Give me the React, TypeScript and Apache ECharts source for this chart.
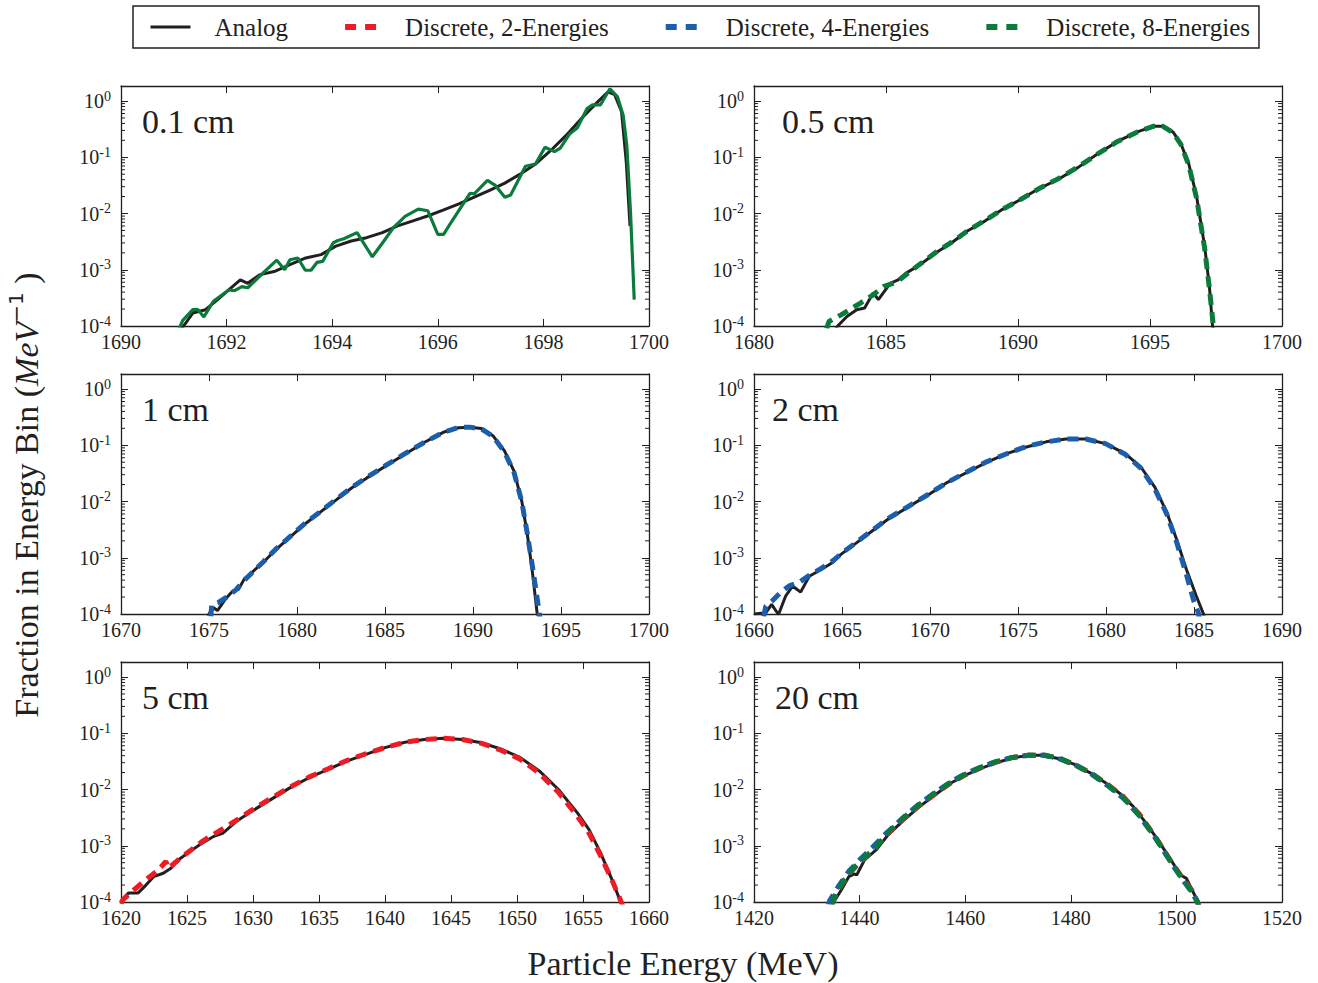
import React, { useEffect, useRef } from 'react';
import * as echarts from 'echarts';

const FONT = "'Liberation Serif', 'Times New Roman', Times, serif";
const INK = '#231f20';

// Legend entries and their colours
const seriesNames = ['Analog', 'Discrete, 2-Energies', 'Discrete, 4-Energies', 'Discrete, 8-Energies'];
const seriesColors = ['#231f20', '#ed1c24', '#1b5eab', '#0b7b3b'];

// Panels: depth label, x-axis range and tick step
const panelTitles = ['0.1 cm', '0.5 cm', '1 cm', '2 cm', '5 cm', '20 cm'];
const xMins = [1690, 1680, 1670, 1660, 1620, 1420];
const xMaxs = [1700, 1700, 1700, 1690, 1660, 1520];
const xSteps = [2, 5, 5, 5, 5, 20];
const Y_MIN = 1e-4;
const Y_MAX = 1.85;

// Log minor ticks: mantissas within each decade
const minorMantissas = [2, 3, 4, 5, 6, 7, 8, 9];
const minorDecades = [-4, -3, -2, -1];

// ---- 0.1 cm ----
const analog01: number[][] = [
  [1691.15, 0.9e-4], [1691.36, 1.7e-4], [1691.6, 1.95e-4], [1691.83, 2.95e-4], [1692.04, 4.37e-4],
  [1692.26, 6.6e-4], [1692.4, 5.75e-4], [1692.62, 8.1e-4], [1692.9, 9.3e-4], [1693.2, 1.23e-3],
  [1693.5, 1.62e-3], [1693.79, 1.86e-3], [1694.07, 2.63e-3], [1694.36, 3.24e-3], [1694.65, 3.72e-3],
  [1694.95, 4.57e-3], [1695.24, 6.03e-3], [1695.53, 7.41e-3], [1695.82, 9.12e-3], [1696.1, 1.15e-2],
  [1696.4, 1.48e-2], [1696.69, 1.95e-2], [1696.98, 2.57e-2], [1697.27, 3.47e-2], [1697.56, 5.01e-2],
  [1697.85, 7.59e-2], [1698.14, 0.132], [1698.43, 0.245], [1698.72, 0.49], [1699.0, 0.91],
  [1699.22, 1.45], [1699.35, 1.3], [1699.48, 0.646], [1699.57, 0.0813], [1699.64, 6.0e-3],
];
const discrete8_01: number[][] = [
  [1691.1, 0.9e-4], [1691.17, 1.26e-4], [1691.36, 1.95e-4], [1691.46, 1.95e-4], [1691.57, 1.45e-4],
  [1691.75, 2.75e-4], [1692.04, 4.37e-4], [1692.15, 4.27e-4], [1692.29, 5.01e-4], [1692.4, 4.79e-4],
  [1692.62, 7.59e-4], [1692.95, 1.48e-3], [1693.1, 1.0e-3], [1693.2, 1.51e-3], [1693.35, 1.62e-3],
  [1693.49, 9.8e-4], [1693.6, 9.8e-4], [1693.71, 1.35e-3], [1693.82, 1.41e-3], [1694.02, 3.02e-3],
  [1694.11, 3.31e-3], [1694.22, 3.55e-3], [1694.47, 4.57e-3], [1694.76, 1.7e-3], [1694.98, 3.24e-3],
  [1695.16, 5.62e-3], [1695.38, 8.91e-3], [1695.63, 1.2e-2], [1695.81, 1.12e-2], [1696.0, 4.27e-3],
  [1696.11, 4.27e-3], [1696.25, 6.92e-3], [1696.61, 2.29e-2], [1696.69, 2.24e-2], [1696.94, 3.89e-2],
  [1697.09, 3.16e-2], [1697.27, 1.95e-2], [1697.38, 2.14e-2], [1697.66, 6.92e-2], [1697.85, 7.59e-2],
  [1698.03, 0.151], [1698.21, 0.126], [1698.32, 0.145], [1698.5, 0.263], [1698.64, 0.331],
  [1698.83, 0.741], [1698.93, 0.851], [1699.08, 0.851], [1699.26, 1.65], [1699.4, 1.2],
  [1699.51, 0.562], [1699.58, 0.162], [1699.65, 1.05e-2], [1699.72, 2.95e-4],
];

// ---- 0.5 cm ----
const analog05: number[][] = [
  [1683.1, 0.9e-4], [1683.17, 1.0e-4], [1683.52, 1.48e-4], [1683.89, 1.95e-4], [1684.19, 2.09e-4],
  [1684.52, 3.89e-4], [1684.71, 2.95e-4], [1685.16, 5.75e-4], [1685.46, 6.61e-4], [1685.76, 8.71e-4],
  [1686.29, 1.23e-3], [1686.89, 2.0e-3], [1687.49, 3.02e-3], [1688.08, 4.9e-3], [1688.76, 7.41e-3],
  [1689.43, 1.2e-2], [1690.03, 1.7e-2], [1690.78, 2.75e-2], [1691.53, 4.07e-2], [1692.28, 6.61e-2],
  [1693.02, 0.115], [1693.77, 0.191], [1694.52, 0.282], [1695.12, 0.355], [1695.49, 0.355],
  [1695.87, 0.282], [1696.17, 0.174], [1696.47, 7.59e-2], [1696.77, 1.95e-2], [1697.07, 2.63e-3],
  [1697.25, 5.01e-4], [1697.37, 1.0e-4], [1697.42, 0.8e-4],
];
const discrete8_05: number[][] = [
  [1682.75, 0.9e-4], [1682.84, 1.2e-4], [1683.3, 1.58e-4], [1684.0, 2.51e-4], [1684.5, 3.55e-4],
  [1684.9, 5.01e-4], [1685.4, 6.03e-4], [1685.8, 8.51e-4], [1686.29, 1.26e-3], [1686.89, 2.04e-3],
  [1687.49, 3.09e-3], [1688.08, 4.9e-3], [1688.76, 7.59e-3], [1689.43, 1.2e-2], [1690.03, 1.7e-2],
  [1690.78, 2.75e-2], [1691.53, 4.17e-2], [1692.28, 6.76e-2], [1693.02, 0.115], [1693.77, 0.191],
  [1694.52, 0.282], [1695.12, 0.355], [1695.49, 0.355], [1695.87, 0.275], [1696.17, 0.17],
  [1696.47, 7.24e-2], [1696.77, 1.82e-2], [1697.07, 2.4e-3], [1697.25, 4.68e-4], [1697.4, 1.0e-4],
  [1697.45, 0.8e-4],
];

// ---- 1 cm ----
const analog1: number[][] = [
  [1674.95, 0.9e-4], [1675.0, 1.0e-4], [1675.26, 1.29e-4], [1675.48, 1.15e-4], [1675.92, 1.82e-4],
  [1676.35, 2.57e-4], [1676.68, 2.75e-4], [1677.0, 4.17e-4], [1677.44, 5.5e-4], [1678.09, 8.32e-4],
  [1678.75, 1.35e-3], [1679.62, 2.34e-3], [1680.49, 4.07e-3], [1681.36, 6.61e-3], [1682.23, 1.07e-2],
  [1683.1, 1.74e-2], [1683.97, 2.63e-2], [1685.04, 4.27e-2], [1686.13, 6.92e-2], [1687.22, 0.112],
  [1688.31, 0.17], [1689.18, 0.205], [1689.83, 0.21], [1690.48, 0.198], [1691.13, 0.148],
  [1691.79, 7.94e-2], [1692.33, 3.47e-2], [1692.77, 1.02e-2], [1693.09, 2.57e-3], [1693.35, 6.46e-4],
  [1693.65, 1.0e-4], [1693.7, 0.8e-4],
];
const discrete4_1: number[][] = [
  [1675.1, 0.9e-4], [1675.16, 1.48e-4], [1675.5, 1.58e-4], [1676.0, 2.0e-4], [1676.5, 2.63e-4],
  [1677.0, 3.98e-4], [1677.5, 5.62e-4], [1678.09, 8.51e-4], [1678.75, 1.38e-3], [1679.62, 2.4e-3],
  [1680.49, 4.17e-3], [1681.36, 6.76e-3], [1682.23, 1.1e-2], [1683.1, 1.78e-2], [1683.97, 2.69e-2],
  [1685.04, 4.37e-2], [1686.13, 7.08e-2], [1687.22, 0.112], [1688.31, 0.17], [1689.18, 0.207],
  [1689.83, 0.21], [1690.48, 0.195], [1691.13, 0.145], [1691.79, 7.59e-2], [1692.33, 3.31e-2],
  [1692.77, 1.0e-2], [1693.09, 2.63e-3], [1693.4, 6.3e-4], [1693.75, 1.12e-4], [1693.8, 0.8e-4],
];

// ---- 2 cm ----
const analog2: number[][] = [
  [1660.0, 1.0e-4], [1660.67, 1.05e-4], [1661.0, 1.48e-4], [1661.39, 0.98e-4], [1661.8, 2.09e-4],
  [1662.13, 2.95e-4], [1662.3, 2.95e-4], [1662.65, 2.45e-4], [1663.14, 4.68e-4], [1663.82, 6.17e-4],
  [1664.49, 8.32e-4], [1664.94, 1.15e-3], [1665.84, 1.86e-3], [1666.73, 3.02e-3], [1667.63, 4.9e-3],
  [1668.75, 7.94e-3], [1669.87, 1.29e-2], [1670.99, 2.19e-2], [1672.12, 3.31e-2], [1673.24, 5.01e-2],
  [1674.36, 7.08e-2], [1675.48, 9.33e-2], [1676.6, 0.115], [1677.73, 0.129], [1678.85, 0.129],
  [1679.97, 0.107], [1681.09, 7.08e-2], [1681.99, 4.07e-2], [1682.78, 1.78e-2], [1683.45, 6.46e-3],
  [1684.01, 2.14e-3], [1684.57, 6.17e-4], [1685.13, 2.09e-4], [1685.54, 1.0e-4], [1685.6, 0.85e-4],
];
const discrete4_2: number[][] = [
  [1660.55, 0.9e-4], [1660.67, 1.38e-4], [1661.0, 1.66e-4], [1661.5, 2.4e-4], [1662.0, 3.16e-4],
  [1662.6, 3.72e-4], [1663.2, 5.01e-4], [1663.82, 6.46e-4], [1664.49, 8.91e-4], [1664.94, 1.17e-3],
  [1665.84, 1.91e-3], [1666.73, 3.09e-3], [1667.63, 5.01e-3], [1668.75, 8.13e-3], [1669.87, 1.32e-2],
  [1670.99, 2.19e-2], [1672.12, 3.39e-2], [1673.24, 5.13e-2], [1674.36, 7.08e-2], [1675.48, 9.55e-2],
  [1676.6, 0.115], [1677.73, 0.129], [1678.85, 0.129], [1679.97, 0.107], [1681.09, 6.92e-2],
  [1681.99, 3.89e-2], [1682.78, 1.66e-2], [1683.45, 6.03e-3], [1684.01, 1.91e-3], [1684.57, 5.01e-4],
  [1685.0, 1.66e-4], [1685.25, 1.05e-4], [1685.3, 0.85e-4],
];

// ---- 5 cm ----
const analog5: number[][] = [
  [1620.0, 0.9e-4], [1620.15, 1.15e-4], [1620.58, 1.45e-4], [1621.3, 1.45e-4], [1621.89, 2.0e-4],
  [1622.47, 2.82e-4], [1623.2, 3.24e-4], [1623.78, 3.98e-4], [1624.36, 5.62e-4], [1625.23, 7.94e-4],
  [1626.1, 1.1e-3], [1626.98, 1.45e-3], [1627.7, 1.66e-3], [1628.72, 2.69e-3], [1629.88, 4.07e-3],
  [1631.34, 6.61e-3], [1632.79, 1.07e-2], [1634.24, 1.62e-2], [1635.7, 2.29e-2], [1637.15, 3.24e-2],
  [1638.6, 4.27e-2], [1640.06, 5.62e-2], [1641.51, 6.92e-2], [1642.97, 7.76e-2], [1644.42, 8.13e-2],
  [1645.87, 7.76e-2], [1647.33, 6.76e-2], [1648.78, 5.25e-2], [1650.23, 3.72e-2], [1651.69, 2.14e-2],
  [1653.14, 1.0e-2], [1654.59, 3.8e-3], [1655.47, 1.91e-3], [1656.34, 7.41e-4], [1657.21, 2.45e-4],
  [1657.85, 1.0e-4], [1657.9, 0.85e-4],
];
const discrete2_5: number[][] = [
  [1620.0, 0.95e-4], [1620.15, 1.1e-4], [1621.0, 1.66e-4], [1622.0, 2.63e-4], [1622.8, 3.63e-4],
  [1623.4, 5.25e-4], [1623.6, 3.98e-4], [1624.5, 6.03e-4], [1625.23, 8.13e-4], [1626.1, 1.17e-3],
  [1626.98, 1.58e-3], [1627.7, 2.0e-3], [1628.72, 2.82e-3], [1629.88, 4.27e-3], [1631.34, 6.92e-3],
  [1632.79, 1.1e-2], [1634.24, 1.66e-2], [1635.7, 2.34e-2], [1637.15, 3.31e-2], [1638.6, 4.37e-2],
  [1640.06, 5.62e-2], [1641.51, 6.92e-2], [1642.97, 7.76e-2], [1644.42, 8.13e-2], [1645.87, 7.76e-2],
  [1647.33, 6.61e-2], [1648.78, 5.01e-2], [1650.23, 3.47e-2], [1651.69, 1.95e-2], [1653.14, 8.91e-3],
  [1654.59, 3.31e-3], [1655.47, 1.66e-3], [1656.34, 6.61e-4], [1657.21, 2.4e-4], [1657.9, 1.0e-4],
  [1658.0, 0.85e-4],
];

// ---- 20 cm ----
const analog20: number[][] = [
  [1435.0, 0.9e-4], [1435.1, 1.0e-4], [1436.5, 1.62e-4], [1437.95, 2.82e-4], [1439.0, 3.16e-4],
  [1439.45, 3.02e-4], [1440.94, 5.62e-4], [1443.19, 8.51e-4], [1445.43, 1.58e-3], [1448.42, 2.88e-3],
  [1451.41, 5.01e-3], [1454.4, 8.13e-3], [1457.39, 1.32e-2], [1460.38, 1.86e-2], [1463.37, 2.45e-2],
  [1466.36, 3.09e-2], [1469.36, 3.72e-2], [1472.35, 4.07e-2], [1474.6, 4.07e-2], [1477.59, 3.55e-2],
  [1480.58, 2.82e-2], [1483.57, 2.0e-2], [1486.56, 1.32e-2], [1489.55, 8.13e-3], [1491.8, 5.01e-3],
  [1494.04, 2.69e-3], [1496.28, 1.35e-3], [1498.53, 6.46e-4], [1500.77, 3.02e-4], [1501.9, 2.63e-4],
  [1503.0, 1.62e-4], [1504.1, 1.0e-4], [1504.3, 0.85e-4],
];
const discrete2_20: number[][] = [
  [1434.6, 0.9e-4], [1436, 1.66e-4], [1438, 3.16e-4], [1440, 5.0e-4], [1442, 7.6e-4],
  [1445, 1.51e-3], [1448, 2.82e-3], [1451, 4.9e-3], [1454, 7.94e-3], [1457, 1.26e-2],
  [1460, 1.82e-2], [1463, 2.45e-2], [1466, 3.09e-2], [1469, 3.72e-2], [1472, 4.07e-2],
  [1475, 4.07e-2], [1478, 3.55e-2], [1481, 2.69e-2], [1484, 1.91e-2], [1487, 1.23e-2],
  [1490, 7.41e-3], [1493, 3.63e-3], [1496, 1.45e-3], [1499, 5.25e-4], [1501, 2.82e-4],
  [1503, 1.58e-4], [1504, 1.0e-4], [1504.2, 0.85e-4],
];
const discrete4_20: number[][] = [
  [1434.1, 0.9e-4], [1434.3, 1.05e-4], [1436, 1.91e-4], [1438, 3.55e-4], [1440, 5.62e-4],
  [1442, 8.51e-4], [1445, 1.66e-3], [1448, 3.02e-3], [1451, 5.25e-3], [1454, 8.51e-3],
  [1457, 1.32e-2], [1460, 1.91e-2], [1463, 2.51e-2], [1466, 3.16e-2], [1469, 3.72e-2],
  [1472, 4.07e-2], [1475, 4.07e-2], [1478, 3.47e-2], [1481, 2.69e-2], [1484, 1.86e-2],
  [1487, 1.17e-2], [1490, 6.92e-3], [1493, 3.39e-3], [1496, 1.38e-3], [1499, 5.01e-4],
  [1501, 2.63e-4], [1503, 1.45e-4], [1504, 1.0e-4], [1504.2, 0.85e-4],
];
const discrete8_20: number[][] = [
  [1434.8, 0.9e-4], [1435.5, 1.41e-4], [1437, 2.4e-4], [1439, 4.17e-4], [1441, 6.31e-4],
  [1443, 9.12e-4], [1445, 1.58e-3], [1448, 2.95e-3], [1451, 5.13e-3], [1454, 8.32e-3],
  [1457, 1.29e-2], [1460, 1.86e-2], [1463, 2.51e-2], [1466, 3.16e-2], [1469, 3.72e-2],
  [1472, 4.07e-2], [1475, 4.07e-2], [1478, 3.55e-2], [1481, 2.69e-2], [1484, 1.91e-2],
  [1487, 1.2e-2], [1490, 7.08e-3], [1493, 3.47e-3], [1496, 1.41e-3], [1499, 5.13e-4],
  [1501, 2.69e-4], [1503, 1.51e-4], [1504, 1.0e-4], [1504.2, 0.85e-4],
];

// Which curves go in which panel: legend index, data, solid stroke
type Curve = { kind: number; data: number[][]; solid?: boolean };
const panelCurves: Curve[][] = [
  [{ kind: 0, data: analog01 }, { kind: 3, data: discrete8_01, solid: true }],
  [{ kind: 0, data: analog05 }, { kind: 3, data: discrete8_05 }],
  [{ kind: 0, data: analog1 }, { kind: 2, data: discrete4_1 }],
  [{ kind: 0, data: analog2 }, { kind: 2, data: discrete4_2 }],
  [{ kind: 0, data: analog5 }, { kind: 1, data: discrete2_5 }],
  [{ kind: 0, data: analog20 }, { kind: 1, data: discrete2_20 }, { kind: 2, data: discrete4_20 }, { kind: 3, data: discrete8_20 }],
];

// Layout of the 3x2 panel grid
const COL_LEFT = [121, 754];
const ROW_TOP = [86, 374, 662];
const PANEL_W = 528;
const PANEL_H = 240;
const TITLE_DX = [21, 28, 21, 18, 21, 21];
const TITLE_DY = 35;

const DASH = [11, 7];
const ANALOG_W = 3;
const DASH_W = 5;

function decadeLabel(v: number): string {
  const e = Math.log10(v);
  const r = Math.round(e);
  if (Math.abs(e - r) > 1e-6) return '';
  return `{b|10}{s|${r}}`;
}

const labelRich = {
  b: { fontFamily: FONT, fontSize: 20, color: INK, lineHeight: 24 },
  s: { fontFamily: FONT, fontSize: 14, color: INK, lineHeight: 14, verticalAlign: 'top' },
};

function buildOption() {
  const grid: any[] = [];
  const xAxis: any[] = [];
  const yAxis: any[] = [];
  const series: any[] = [];
  const deferred: any[] = [];
  const graphic: any[] = [];

  const minorValues: number[] = [];
  minorDecades.forEach((d) => minorMantissas.forEach((m) => minorValues.push(m * Math.pow(10, d))));

  for (let i = 0; i < 6; i++) {
    const left = COL_LEFT[i % 2];
    const top = ROW_TOP[Math.floor(i / 2)];
    grid.push({ left, top, width: PANEL_W, height: PANEL_H, containLabel: false });

    const axisLine = { show: true, onZero: false, lineStyle: { color: INK, width: 1.3 } };
    const tick = { show: true, inside: true, length: 7, lineStyle: { color: INK, width: 1 } };
    const xBase = {
      type: 'value', gridIndex: i, min: xMins[i], max: xMaxs[i], interval: xSteps[i],
      axisLine, axisTick: tick, splitLine: { show: false },
    };
    xAxis.push({
      ...xBase, position: 'bottom',
      axisLabel: {
        fontFamily: FONT, fontSize: 20, color: INK, margin: 6,
        showMinLabel: true, showMaxLabel: true, formatter: (v: number) => String(v),
      },
    });
    xAxis.push({ ...xBase, position: 'top', axisLabel: { show: false } });

    const yBase = {
      type: 'log', logBase: 10, gridIndex: i, min: Y_MIN, max: Y_MAX,
      axisLine, axisTick: tick, splitLine: { show: false },
    };
    yAxis.push({
      ...yBase, position: 'left',
      axisLabel: { formatter: decadeLabel, rich: labelRich, margin: 10, showMaxLabel: false },
    });
    yAxis.push({ ...yBase, position: 'right', axisLabel: { show: false } });

    const xi = i * 2;
    const yi = i * 2;

    panelCurves[i].forEach((c) => {
      const s: any = {
        type: 'line', name: seriesNames[c.kind], xAxisIndex: xi, yAxisIndex: yi,
        data: c.data, showSymbol: false, symbol: 'none', clip: true, silent: true,
        color: seriesColors[c.kind],
        lineStyle: c.kind === 0
          ? { color: seriesColors[0], width: ANALOG_W }
          : c.solid
            ? { color: seriesColors[c.kind], width: 3.2 }
            : { color: seriesColors[c.kind], width: DASH_W, type: DASH, cap: 'butt' },
        z: c.kind === 0 ? 2 : 3,
      };
      if (c.solid) deferred.push(s); else series.push(s);
    });

    const xmin = xMins[i];
    const xmax = xMaxs[i];
    series.push({
      type: 'custom', xAxisIndex: xi, yAxisIndex: yi, silent: true, z: 4,
      data: minorValues.map((v) => [xmin, v]),
      encode: { x: 0, y: 1 },
      renderItem: (_p: any, api: any) => {
        const v = api.value(1);
        const pl = api.coord([xmin, v]);
        const pr = api.coord([xmax, v]);
        return {
          type: 'group',
          children: [
            { type: 'line', shape: { x1: pl[0], y1: pl[1], x2: pl[0] + 4, y2: pl[1] }, style: { stroke: INK, lineWidth: 1 } },
            { type: 'line', shape: { x1: pr[0] - 4, y1: pr[1], x2: pr[0], y2: pr[1] }, style: { stroke: INK, lineWidth: 1 } },
          ],
        };
      },
    });

    graphic.push({
      type: 'text', x: left + TITLE_DX[i], y: top + TITLE_DY, z: 10,
      style: { text: panelTitles[i], fontFamily: FONT, fontSize: 34, fill: INK, align: 'left', verticalAlign: 'middle' },
    });
  }

  graphic.push({
    type: 'text', x: 683, y: 963,
    style: { text: 'Particle Energy (MeV)', fontFamily: FONT, fontSize: 34, fill: INK, align: 'center', verticalAlign: 'middle' },
  });
  graphic.push({
    type: 'text', x: 26, y: 495, rotation: Math.PI / 2,
    style: {
      text: '{n|Fraction in Energy Bin (}{i|MeV}{s|\u22121}{n| )}',
      align: 'center', verticalAlign: 'middle',
      rich: {
        n: { fontFamily: FONT, fontSize: 34, fill: INK, lineHeight: 40 },
        i: { fontFamily: FONT, fontStyle: 'italic', fontSize: 34, fill: INK, lineHeight: 40 },
        s: { fontFamily: "'DejaVu Sans', sans-serif", fontSize: 20, fill: INK, lineHeight: 20, verticalAlign: 'top' },
      },
    },
  });

  return {
    animation: false,
    backgroundColor: '#ffffff',
    grid, xAxis, yAxis,
    series: [...series, ...deferred],
    graphic,
    legend: {
      left: 133, top: 6,
      data: seriesNames.map((n, k) => (k === 0
        ? { name: n, lineStyle: { width: ANALOG_W } }
        : { name: n, lineStyle: { width: 6, type: [11, 9], dashOffset: 16, cap: 'butt' } })),
      itemWidth: 40, itemHeight: 26, itemGap: 50,
      padding: [8, 9, 8, 16],
      borderColor: INK, borderWidth: 1.5, borderRadius: 0,
      itemStyle: { opacity: 0 },
      selectedMode: false,
      textStyle: { fontFamily: FONT, fontSize: 25, color: INK, lineHeight: 26, padding: [0, 0, 0, 19] },
    },
  };
}

export default function App() {
  const ref = useRef<HTMLDivElement>(null);
  useEffect(() => {
    document.body.style.margin = '0';
    if (!ref.current) return;
    const chart = echarts.init(ref.current, undefined, { renderer: 'svg' });
    chart.setOption(buildOption() as any);
    return () => chart.dispose();
  }, []);
  return <div ref={ref} style={{ width: 1318, height: 983, background: '#fff' }} />;
}
